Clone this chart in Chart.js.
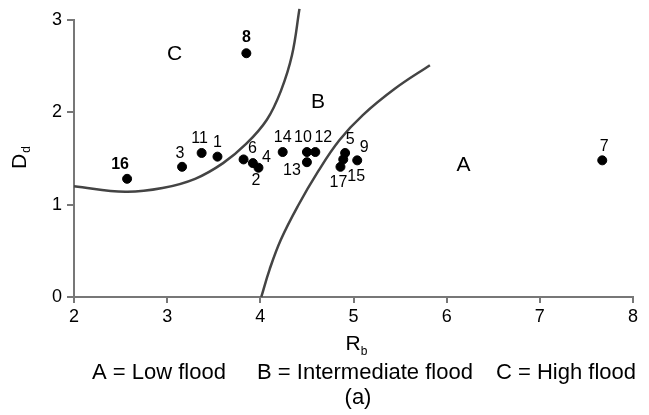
<!DOCTYPE html>
<html>
<head>
<meta charset="utf-8">
<script src="https://cdn.jsdelivr.net/npm/chart.js@4"></script>
<style>
  html, body { margin: 0; padding: 0; background: #fff; }
  #wrap { width: 649px; height: 415px; position: relative; }
</style>
</head>
<body>
<div id="wrap"><canvas id="myChart"></canvas></div>
<script>
// basins, Rb vs Dd
const basinIds = ['1', '2', '3', '4', '5', '6', '7', '8', '9', '10', '11', '12', '13', '14', '15', '16', '17'];
const rbValues = [3.54, 3.92, 3.16, 3.98, 4.91, 3.82, 7.67, 3.85, 5.04, 4.50, 3.37, 4.59, 4.50, 4.24, 4.89, 2.57, 4.86];
const ddValues = [1.52, 1.45, 1.41, 1.40, 1.56, 1.49, 1.48, 2.64, 1.48, 1.57, 1.56, 1.57, 1.46, 1.57, 1.49, 1.28, 1.41];

// boundary between C and B
const curveCx = [2.0, 2.55, 2.95, 3.3, 3.6, 3.85, 4.07, 4.22, 4.34, 4.42];
const curveCy = [1.20, 1.14, 1.18, 1.28, 1.45, 1.66, 1.92, 2.23, 2.62, 3.12];
// boundary between B and A
const curveAx = [4.01, 4.1, 4.22, 4.4, 4.62, 4.85, 5.1, 5.45, 5.82];
const curveAy = [0.0, 0.3, 0.62, 0.98, 1.36, 1.70, 1.97, 2.26, 2.51];

const regionNames = ['C', 'B', 'A'];
const regionX = [3.08, 4.62, 6.18];
const regionY = [2.63, 2.11, 1.43];

const xTicks = [2, 3, 4, 5, 6, 7, 8];
const yTicks = [0, 1, 2, 3];
const legendTexts = ['A = Low flood', 'B = Intermediate flood', 'C = High flood'];

// label offsets in px from the dot (dx, dy)
const labelOffsets = {
    '1': [0, -14], '2': [3, 17], '3': [-2, -13], '4': [8, -10], '5': [5, -13],
    '6': [9, -11], '7': [2, -14], '8': [0, -16], '9': [7, -13], '10': [-4, -14],
    '11': [-2, -14], '12': [8, -14], '13': [-15, 8], '14': [0, -14], '15': [13, 17],
    '16': [-7, -14], '17': [-2, 16]
};
const boldIds = ['8', '16'];

function toPoints(xs, ys) {
    return xs.map((x, i) => ({ x: x, y: ys[i] }));
}

const FONT = '"Liberation Sans", Arial, sans-serif';

const textPlugin = {
    id: 'textPlugin',
    afterDraw(chart) {
        const ctx = chart.ctx;
        const xs = chart.scales.x, ys = chart.scales.y;
        ctx.save();
        ctx.fillStyle = '#000';
        ctx.textAlign = 'center';
        ctx.textBaseline = 'middle';

        // point labels
        const meta = chart.getDatasetMeta(0);
        meta.data.forEach((el, i) => {
            const id = basinIds[i];
            const off = labelOffsets[id];
            ctx.font = (boldIds.includes(id) ? 'bold ' : '') + '16px ' + FONT;
            ctx.fillText(id, el.x + off[0], el.y + off[1]);
        });

        // region letters
        ctx.font = '21px ' + FONT;
        regionNames.forEach((n, i) => {
            ctx.fillText(n, xs.getPixelForValue(regionX[i]), ys.getPixelForValue(regionY[i]));
        });

        // x title R_b
        const cx = 356;
        ctx.font = '21px ' + FONT;
        ctx.fillText('R', cx - 3, 344);
        ctx.font = '12px ' + FONT;
        ctx.fillText('b', cx + 8, 352);

        // y title D_d
        ctx.save();
        ctx.translate(20, (ys.top + ys.bottom) / 2);
        ctx.rotate(-Math.PI / 2);
        ctx.font = '21px ' + FONT;
        ctx.fillText('D', -3, 0);
        ctx.font = '12px ' + FONT;
        ctx.fillText('d', 9, 7);
        ctx.restore();

        // legend line and caption
        ctx.font = '22px ' + FONT;
        const legX = [159, 365, 566];
        legendTexts.forEach((t, i) => ctx.fillText(t, legX[i], 373));
        ctx.fillText('(a)', cx + 2, 398);
        ctx.restore();
    }
};

const ctx = document.getElementById('myChart').getContext('2d');
const myChart = new Chart(ctx, {
    type: 'scatter',
    data: {
        datasets: [{
            label: 'basins',
            data: toPoints(rbValues, ddValues),
            backgroundColor: '#000',
            borderColor: '#000',
            pointRadius: 4.5,
            pointHoverRadius: 4.5
        }, {
            label: 'C/B',
            data: toPoints(curveCx, curveCy),
            showLine: true,
            borderColor: '#444',
            borderWidth: 2.5,
            pointRadius: 0,
            tension: 0.4,
            clip: false
        }, {
            label: 'B/A',
            data: toPoints(curveAx, curveAy),
            showLine: true,
            borderColor: '#444',
            borderWidth: 2.5,
            pointRadius: 0,
            tension: 0.4,
            clip: false
        }]
    },
    options: {
        responsive: true,
        maintainAspectRatio: false,
        animation: false,
        layout: { padding: { top: 20, right: 16, left: 0, bottom: 0 } },
        plugins: {
            legend: { display: false },
            tooltip: { enabled: false }
        },
        scales: {
            x: {
                type: 'linear',
                min: 2,
                max: 8,
                afterBuildTicks: (s) => { s.ticks = xTicks.map(v => ({ value: v })); },
                afterFit: (s) => { s.height = 118; },
                grid: { drawOnChartArea: false, tickLength: 6, color: '#777', lineWidth: 2 },
                border: { color: '#777', width: 2 },
                ticks: { color: '#000', padding: 3, font: { size: 18, family: FONT } }
            },
            y: {
                type: 'linear',
                min: 0,
                max: 3,
                afterBuildTicks: (s) => { s.ticks = yTicks.map(v => ({ value: v })); },
                afterFit: (s) => { s.width = 74; },
                grid: { drawOnChartArea: false, tickLength: 7, color: '#777', lineWidth: 2 },
                border: { color: '#777', width: 2 },
                ticks: { color: '#000', padding: 5, font: { size: 18, family: FONT } }
            }
        }
    },
    plugins: [textPlugin]
});
</script>
</body>
</html>
